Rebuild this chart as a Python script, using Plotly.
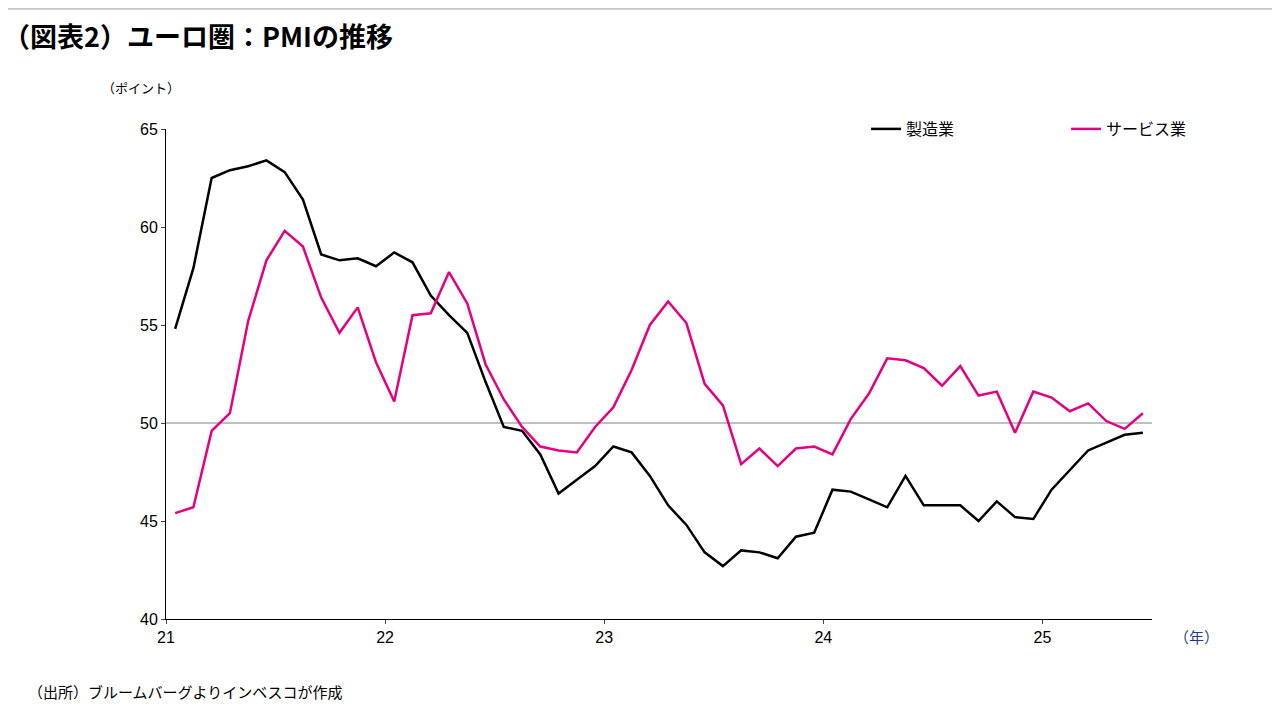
import plotly.graph_objects as go

years = ["21", "22", "23", "24", "25"]
manufacturing = [54.8, 57.9, 62.5, 62.9, 63.1, 63.4, 62.8, 61.4, 58.6, 58.3, 58.4, 58.0,
                 58.7, 58.2, 56.5, 55.5, 54.6, 52.1, 49.8, 49.6, 48.4, 46.4, 47.1, 47.8,
                 48.8, 48.5, 47.3, 45.8, 44.8, 43.4, 42.7, 43.5, 43.4, 43.1, 44.2, 44.4,
                 46.6, 46.5, 46.1, 45.7, 47.3, 45.8, 45.8, 45.8, 45.0, 46.0, 45.2, 45.1,
                 46.6, 47.6, 48.6, 49.0, 49.4, 49.5]
services = [45.4, 45.7, 49.6, 50.5, 55.2, 58.3, 59.8, 59.0, 56.4, 54.6, 55.9, 53.1,
            51.1, 55.5, 55.6, 57.7, 56.1, 53.0, 51.2, 49.8, 48.8, 48.6, 48.5, 49.8,
            50.8, 52.7, 55.0, 56.2, 55.1, 52.0, 50.9, 47.9, 48.7, 47.8, 48.7, 48.8,
            48.4, 50.2, 51.5, 53.3, 53.2, 52.8, 51.9, 52.9, 51.4, 51.6, 49.5, 51.6,
            51.3, 50.6, 51.0, 50.1, 49.7, 50.5]
x = [i / 12 + 1 / 24 for i in range(len(manufacturing))]

fig = go.Figure()
fig.add_trace(go.Scatter(x=x, y=manufacturing, mode="lines", name="製造業",
                         line=dict(color="black", width=2.5)))
fig.add_trace(go.Scatter(x=x, y=services, mode="lines", name="サービス業",
                         line=dict(color="#E4007F", width=2.5)))
fig.add_shape(type="line", xref="x", yref="y", x0=0, x1=4.5, y0=50, y1=50,
              line=dict(color="#808080", width=1), layer="below")
fig.add_shape(type="line", xref="paper", yref="paper", x0=-0.2, x1=1.2, y0=1.245, y1=1.245,
              line=dict(color="#999", width=1))

fig.update_layout(
    width=1280, height=720, paper_bgcolor="white", plot_bgcolor="white",
    margin=dict(l=158, r=136, t=121, b=109),
    font=dict(family="Noto Sans CJK JP, Arial", size=15, color="black"),
    showlegend=True,
    legend=dict(orientation="h", x=0.71, y=1.0, xanchor="left", yanchor="middle",
                font=dict(size=16), itemwidth=30, entrywidth=155, entrywidthmode="pixels",
                bgcolor="rgba(0,0,0,0)"),
    xaxis=dict(range=[0, 4.5], tickvals=[0, 1, 2, 3, 4], ticktext=years,
               showline=True, linecolor="black", linewidth=1, showgrid=False,
               ticks="outside", ticklen=4, tickfont=dict(size=16, family="Arial")),
    yaxis=dict(range=[40, 65], dtick=5, showline=True, linecolor="black", linewidth=1,
               showgrid=False, ticks="outside", ticklen=4, zeroline=False,
               tickfont=dict(size=16, family="Arial")),
    annotations=[
        dict(text="<b>（図表2）ユーロ圏：PMIの推移</b>", xref="paper", yref="paper",
             x=-0.167, y=1.19, xanchor="left", yanchor="middle", showarrow=False,
             font=dict(size=27)),
        dict(text="（ポイント）", xref="paper", yref="paper", x=-0.067, y=1.085,
             xanchor="left", yanchor="middle", showarrow=False, font=dict(size=13)),
        dict(text="（年）", xref="paper", yref="paper", x=1.02, y=-0.035,
             xanchor="left", yanchor="middle", showarrow=False,
             font=dict(size=15, color="#1F3C88")),
        dict(text="（出所）ブルームバーグよりインベスコが作成", xref="paper", yref="paper",
             x=-0.142, y=-0.148, xanchor="left", yanchor="middle", showarrow=False,
             font=dict(size=15)),
    ],
)
fig.write_html("out.html")
